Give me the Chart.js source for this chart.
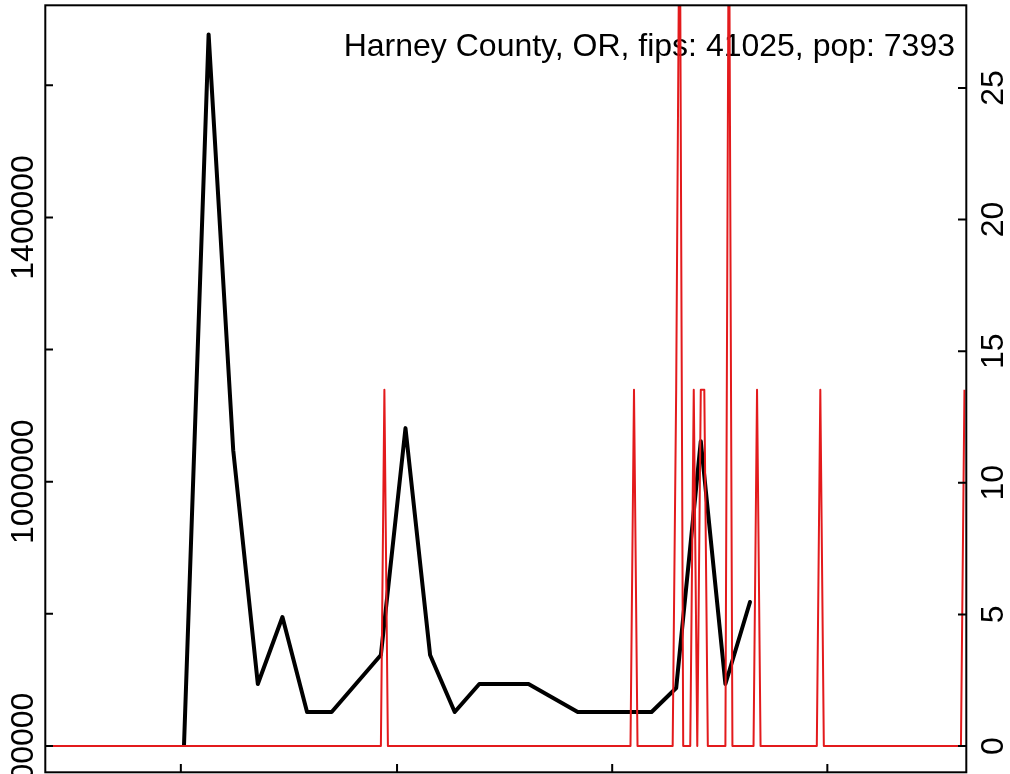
<!DOCTYPE html>
<html>
<head>
<meta charset="utf-8">
<script src="https://cdn.jsdelivr.net/npm/chart.js@4.4.0/dist/chart.umd.min.js"></script>
<style>
  html, body { margin: 0; padding: 0; background: #fff; }
  canvas { display: block; }
</style>
</head>
<body>
<canvas id="myChart" width="1010" height="774"></canvas>
<script>
// black line: weekly totals, x = days after the first week
const weekDays = [0, 7, 14, 21, 28, 35, 42, 49, 56, 63, 70, 77, 84, 91, 98, 105, 112, 119, 126, 133, 140, 147, 154, 161];
const weekValues = [601500, 1677000, 1047800, 693800, 795200, 651400, 651400, 694500, 737700, 1081100, 737700, 651400,
                    693800, 693800, 693800, 672600, 651400, 651400, 651400, 651400, 687700, 1061400, 693800, 817900];

// red line: daily cases per 100k, only the days that are not zero
const caseDays = [57, 128, 140, 141, 145, 147, 148, 155, 163, 181, 222];
const caseRates = [13.53, 13.53, 13.53, 33.8, 13.53, 13.53, 13.53, 33.8, 13.53, 13.53, 13.53];
const firstDay = -40;
const lastDay = 222;

// axis ticks
const leftTicks = [600000, 800000, 1000000, 1200000, 1400000, 1600000];
const leftLabels = ["600000", "", "1000000", "", "1400000", ""];
const rightTicks = [0, 5, 10, 15, 20, 25];
const bottomTicks = [-0.9, 60.6, 121.8, 183];

const titleText = "Harney County, OR, fips: 41025, pop: 7393";

const weekly = weekDays.map((d, i) => ({x: d, y: weekValues[i]}));
const daily = [];
for (let d = firstDay; d <= lastDay; d++) {
  const k = caseDays.indexOf(d);
  daily.push({x: d, y: k >= 0 ? caseRates[k] : 0});
}

const FONT = '32px "Liberation Sans", Arial, Helvetica, sans-serif';

const frame = {
  id: "frame",
  beforeDatasetsDraw(chart) {
    const ctx = chart.ctx;
    ctx.save();
    ctx.font = FONT;
    ctx.fillStyle = "#000";
    ctx.textAlign = "right";
    ctx.textBaseline = "alphabetic";
    ctx.fillText(titleText, 955, 56);
    ctx.restore();
  },
  afterDraw(chart) {
    const ctx = chart.ctx;
    const a = chart.chartArea;
    const sx = chart.scales.x, sl = chart.scales.yL, sr = chart.scales.yR;
    ctx.save();
    ctx.strokeStyle = "#000";
    ctx.lineWidth = 2;
    ctx.strokeRect(a.left + 0.3, a.top + 0.3, a.right - a.left, a.bottom - a.top);

    ctx.beginPath();
    leftTicks.forEach(v => {
      const y = sl.getPixelForValue(v);
      ctx.moveTo(a.left, y); ctx.lineTo(a.left + 8, y);
    });
    rightTicks.forEach(v => {
      const y = sr.getPixelForValue(v);
      ctx.moveTo(a.right, y); ctx.lineTo(a.right - 8, y);
    });
    bottomTicks.forEach(v => {
      const x = sx.getPixelForValue(v);
      ctx.moveTo(x, a.bottom); ctx.lineTo(x, a.bottom - 8);
    });
    ctx.stroke();

    ctx.font = FONT;
    ctx.fillStyle = "#000";
    ctx.textAlign = "center";
    ctx.textBaseline = "alphabetic";
    leftTicks.forEach((v, i) => {
      if (!leftLabels[i]) return;
      ctx.save();
      ctx.translate(33, sl.getPixelForValue(v));
      ctx.rotate(-Math.PI / 2);
      ctx.fillText(leftLabels[i], 0, 0);
      ctx.restore();
    });
    rightTicks.forEach(v => {
      ctx.save();
      ctx.translate(1003, sr.getPixelForValue(v));
      ctx.rotate(-Math.PI / 2);
      ctx.fillText(String(v), 0, 0);
      ctx.restore();
    });
    ctx.restore();
  }
};

const config = {
  type: "line",
  data: {
    datasets: [
      {
        label: "cases per 100k",
        data: daily,
        yAxisID: "yR",
        borderColor: "#e31a1c",
        borderWidth: 2,
        pointRadius: 0,
        tension: 0,
        borderJoinStyle: "round",
      },
      {
        label: "weekly",
        data: weekly,
        yAxisID: "yL",
        borderColor: "#000",
        borderWidth: 4,
        pointRadius: 0,
        tension: 0,
        borderJoinStyle: "round",
        borderCapStyle: "round",
      },
    ],
  },
  options: {
    responsive: false,
    animation: false,
    devicePixelRatio: 1,
    layout: { padding: { left: 45, right: 44, top: 5, bottom: 2 } },
    plugins: { legend: { display: false }, tooltip: { enabled: false } },
    scales: {
      x: { type: "linear", min: -39.54, max: 222.44, display: false },
      yL: { type: "linear", position: "left", min: 560650, max: 1721500, display: false },
      yR: { type: "linear", position: "right", min: -0.988, max: 28.15, display: false },
    },
  },
  plugins: [frame],
};

var myChart = new Chart(document.getElementById("myChart"), config);
</script>
</body>
</html>
